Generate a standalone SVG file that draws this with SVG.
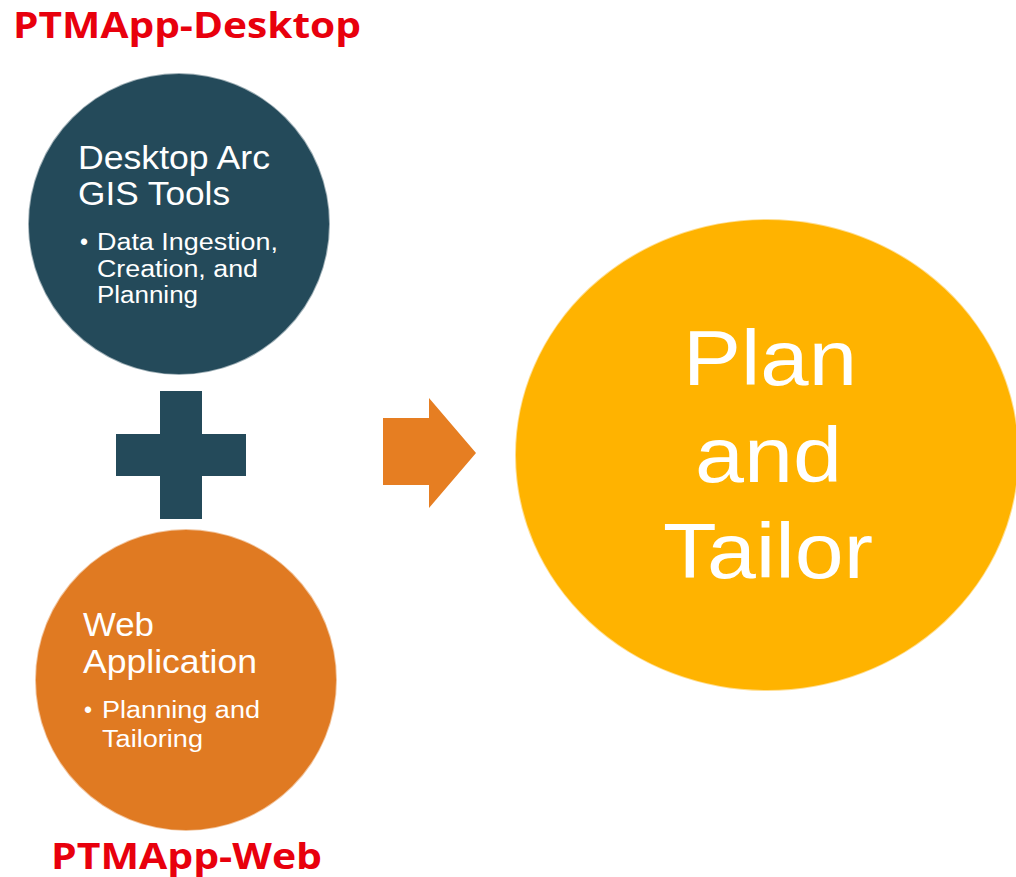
<svg xmlns="http://www.w3.org/2000/svg" width="1016" height="877" viewBox="0 0 1016 877">
<style>
.lbl{font-family:"Liberation Sans",Arial,sans-serif;fill:#ffffff}
.red{font-family:"Open Sans","Noto Sans",sans-serif;font-weight:bold;fill:#e8000d}
.edge{stroke:#ffffff;stroke-opacity:0.55;stroke-width:2}
</style>
<rect width="1016" height="877" fill="#ffffff"/>
<g id="title-desktop"><text class="red" x="13" y="38" font-size="35" textLength="348" lengthAdjust="spacingAndGlyphs">PTMApp-Desktop</text></g>
<g id="node-desktop">
<circle class="edge" cx="179" cy="224" r="151" fill="#244a5a"/>
<text class="lbl" x="78" y="169" font-size="33" textLength="192" lengthAdjust="spacingAndGlyphs">Desktop Arc</text>
<text class="lbl" x="78" y="205" font-size="33" textLength="152" lengthAdjust="spacingAndGlyphs">GIS Tools</text>
<text class="lbl" x="80" y="250" font-size="23">•</text>
<text class="lbl" x="97" y="250" font-size="23" textLength="181" lengthAdjust="spacingAndGlyphs">Data Ingestion,</text>
<text class="lbl" x="97" y="277" font-size="23" textLength="161" lengthAdjust="spacingAndGlyphs">Creation, and</text>
<text class="lbl" x="97" y="303" font-size="23" textLength="101" lengthAdjust="spacingAndGlyphs">Planning</text>
</g>
<g id="connectors">
<path d="M160 391H202V434H246V476H202V519H160V476H116V434H160Z" fill="#244a5a"/>
<path d="M383 418H429V398L476 453L429 508V485H383Z" fill="#e67e22"/>
</g>
<g id="node-web">
<circle class="edge" cx="186" cy="680" r="151" fill="#e07a22"/>
<text class="lbl" x="83" y="636" font-size="33" textLength="71" lengthAdjust="spacingAndGlyphs">Web</text>
<text class="lbl" x="83" y="673" font-size="33" textLength="174" lengthAdjust="spacingAndGlyphs">Application</text>
<text class="lbl" x="84" y="718" font-size="23">•</text>
<text class="lbl" x="102" y="718" font-size="23" textLength="158" lengthAdjust="spacingAndGlyphs">Planning and</text>
<text class="lbl" x="102" y="747" font-size="23" textLength="101" lengthAdjust="spacingAndGlyphs">Tailoring</text>
</g>
<g id="title-web"><text class="red" x="51" y="869" font-size="35" textLength="271" lengthAdjust="spacingAndGlyphs">PTMApp-Web</text></g>
<g id="node-plan">
<ellipse class="edge" cx="767" cy="455" rx="252" ry="236" fill="#ffb300"/>
<text class="lbl" x="683" y="385" font-size="78" textLength="174" lengthAdjust="spacingAndGlyphs">Plan</text>
<text class="lbl" x="695" y="482" font-size="78" textLength="147" lengthAdjust="spacingAndGlyphs">and</text>
<text class="lbl" x="663" y="578" font-size="78" textLength="210" lengthAdjust="spacingAndGlyphs">Tailor</text>
</g>
</svg>
